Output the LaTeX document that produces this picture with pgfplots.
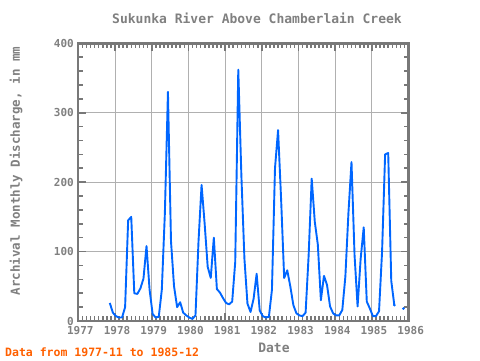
\documentclass[border=0pt]{standalone}
\usepackage{pgfplots}
\pgfplotsset{compat=1.18}
\usepackage{pgfplotstable}
\usepackage{fontspec}
\setmainfont{DejaVu Sans Mono}
\definecolor{txtgray}{RGB}{128,128,128}
\definecolor{axgray}{RGB}{120,120,120}
\definecolor{gridgray}{RGB}{176,176,176}
\definecolor{lineblue}{RGB}{0,102,255}
\definecolor{datared}{RGB}{255,96,0}
\pgfplotstableread{
t v
1977.858 26
1977.942 12
1978.025 7
1978.108 5
1978.192 5
1978.275 20
1978.358 145
1978.442 150
1978.525 40
1978.608 39
1978.692 47
1978.775 61
1978.858 108
1978.942 45
1979.025 10
1979.108 5
1979.192 6
1979.275 45
1979.358 155
1979.442 330
1979.525 115
1979.608 50
1979.692 20
1979.775 27
1979.858 12
1979.942 8
1980.025 5
1980.108 3
1980.192 8
1980.275 115
1980.358 196
1980.442 140
1980.525 78
1980.608 62
1980.692 120
1980.775 46
1980.858 41
1980.942 33
1981.025 26
1981.108 24
1981.192 28
1981.275 85
1981.358 362
1981.442 210
1981.525 90
1981.608 25
1981.692 13
1981.775 32
1981.858 68
1981.942 15
1982.025 7
1982.108 5
1982.192 6
1982.275 45
1982.358 220
1982.442 275
1982.525 175
1982.608 62
1982.692 73
1982.775 50
1982.858 23
1982.942 11
1983.025 8
1983.108 7
1983.192 12
1983.275 95
1983.358 205
1983.442 143
1983.525 110
1983.608 30
1983.692 65
1983.775 52
1983.858 21
1983.942 11
1984.025 8
1984.108 8
1984.192 16
1984.275 64
1984.358 155
1984.442 229
1984.525 95
1984.608 21
1984.692 90
1984.775 135
1984.858 28
1984.942 18
1985.025 7
1985.108 7
1985.192 14
1985.275 100
1985.358 240
1985.442 242
1985.525 58
1985.608 23
}\discharge
\begin{document}
\begin{tikzpicture}[x=1pt,y=1pt]
\useasboundingbox (-78.3,-39) rectangle (401.7,321);
\begin{axis}[
  at={(0,0)}, anchor=south west,
  scale only axis, width=330.4pt, height=277.7pt,
  xmin=1977, xmax=1986, ymin=0, ymax=400,
  xtick={1977,1978,1979,1980,1981,1982,1983,1984,1985,1986},
  xticklabels={1977,1978,1979,1980,1981,1982,1983,1984,1985,1986},
  ytick={0,100,200,300,400},
  yticklabels={0,100,200,300,400},
  minor x tick num=8, minor y tick num=4,
  tick align=inside,
  major tick length=8pt, minor tick length=5pt,
  every tick/.style={draw=axgray, line width=1.6pt},
  axis line style={draw=axgray, line width=2.4pt},
  grid=major,
  major grid style={draw=gridgray, line width=1pt},
  ticklabel style={font=\bfseries\fontsize{11}{12}\selectfont, text=txtgray},
  xticklabel style={yshift=-2pt, xshift=2pt},
  yticklabel style={xshift=-1pt},
  clip=true,
]
\addplot[draw=lineblue, line width=1.9pt, line join=round] table[x=t, y=v] {\discharge};
\addplot[only marks, mark=*, mark size=1.2pt, color=lineblue] coordinates {(1985.608,23) (1985.858,18)};
\end{axis}
\node[text=txtgray, font=\bfseries\fontsize{13}{14}\selectfont] at (178.7,303) {Sukunka River Above Chamberlain Creek};
\node[text=txtgray, font=\bfseries\fontsize{12.5}{14}\selectfont, rotate=90] at (-62.3,150) {Archival Monthly Discharge, in mm};
\node[text=txtgray, font=\bfseries\fontsize{13}{14}\selectfont] at (195.7,-26.7) {Date};
\node[text=datared, font=\bfseries\fontsize{11.5}{13}\selectfont, anchor=west, inner sep=0pt] at (-73.3,-31.3) {Data from 1977-11 to 1985-12};
\end{tikzpicture}
\end{document}
